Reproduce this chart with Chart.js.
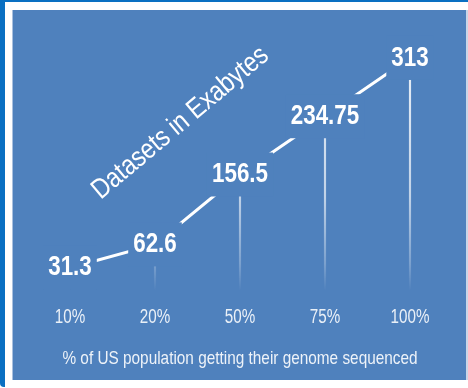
<!DOCTYPE html>
<html lang="en">
<head>
    <title>Datasets in Exabytes</title>
    <script src="https://cdn.jsdelivr.net/npm/chart.js"></script>
    <style>
        body {
            margin: 0;
            width: 468px;
            height: 388px;
            overflow: hidden;
            background: #ffffff;
            position: relative;
        }
        .edge {
            position: absolute;
            left: 0; top: 0;
            width: 468px; height: 387px;
            background: #0a70c2;
            border-bottom-left-radius: 4px;
        }
        .sheet {
            position: absolute;
            left: 5px; top: 2px;
            width: 463px; height: 386px;
            background: #ffffff;
        }
        .plot {
            position: absolute;
            left: 13px; top: 10px;
            width: 453px; height: 370px;
            background: #4f81bd;
            border-right: 2px solid #c9d6e8;
            box-shadow: -1px 0 0 #a9c0de;
        }
    </style>
</head>
<body>
    <div class="edge"></div>
    <div class="sheet"></div>
    <div class="plot"><canvas id="exabytes" width="453" height="370"></canvas></div>

    <script>
        const populationShare = ['10%', '20%', '50%', '75%', '100%'];
        const exabytes = [31.3, 62.6, 156.5, 234.75, 313];
        const valueLabels = ['31.3', '62.6', '156.5', '234.75', '313'];
        const axisTitle = '% of US population getting their genome sequenced';
        const seriesTitle = 'Datasets in Exabytes';

        const plotBlue = '#4f81bd';
        const family = "'Liberation Sans', Arial, sans-serif";

        // no condensed face is installed, so squeeze the text sideways
        function narrowText(ctx, text, x, y, squeeze) {
            ctx.save();
            ctx.translate(x, y);
            ctx.scale(squeeze, 1);
            ctx.fillText(text, 0, 0);
            ctx.restore();
        }

        const textPlugin = {
            id: 'narrowText',
            afterDatasetsDraw(chart) {
                const ctx = chart.ctx;
                const area = chart.chartArea;
                const xScale = chart.scales.x;
                const meta = chart.getDatasetMeta(1);
                ctx.save();
                ctx.textAlign = 'center';
                ctx.textBaseline = 'middle';

                // value labels sit on a box of the plot colour, which breaks the line
                ctx.font = 'bold 28px ' + family;
                meta.data.forEach((pt, i) => {
                    const w = ctx.measureText(valueLabels[i]).width * 0.8;
                    ctx.fillStyle = plotBlue;
                    ctx.fillRect(pt.x - w / 2 - 5, pt.y - 22, w + 10, 44);
                    ctx.fillStyle = '#ffffff';
                    narrowText(ctx, valueLabels[i], pt.x, pt.y, 0.8);
                });

                // category labels and axis title
                ctx.font = '19.5px ' + family;
                ctx.fillStyle = 'rgba(255,255,255,0.88)';
                xScale.ticks.forEach((tick, i) => {
                    narrowText(ctx, xScale.getLabelForValue(tick.value), xScale.getPixelForTick(i), area.bottom + 27, 0.78);
                });
                ctx.font = '18.5px ' + family;
                ctx.fillStyle = 'rgba(255,255,255,0.9)';
                narrowText(ctx, axisTitle, (area.left + area.right) / 2, area.bottom + 68, 0.83);

                // rotated series title
                ctx.fillStyle = '#ffffff';
                ctx.font = '28px ' + family;
                ctx.translate(area.left + area.width * 0.36, area.top + area.height * 0.38);
                ctx.rotate(-40 * Math.PI / 180);
                narrowText(ctx, seriesTitle, 0, 0, 0.84);
                ctx.restore();
            }
        };

        const ctx = document.getElementById('exabytes').getContext('2d');
        new Chart(ctx, {
            type: 'bar',
            data: {
                labels: populationShare,
                datasets: [{
                    // thin fading drop lines
                    type: 'bar',
                    data: exabytes,
                    barThickness: 1.5,
                    order: 2,
                    backgroundColor: function(context) {
                        const area = context.chart.chartArea;
                        if (!area) return 'rgba(255,255,255,0.6)';
                        const g = context.chart.ctx.createLinearGradient(0, area.top, 0, area.bottom);
                        g.addColorStop(0, 'rgba(255,255,255,0.95)');
                        g.addColorStop(0.65, 'rgba(255,255,255,0.65)');
                        g.addColorStop(0.9, 'rgba(255,255,255,0.25)');
                        g.addColorStop(1, 'rgba(255,255,255,0)');
                        return g;
                    }
                }, {
                    type: 'line',
                    data: exabytes,
                    order: 1,
                    borderColor: '#ffffff',
                    borderWidth: 3,
                    pointRadius: 0,
                    tension: 0
                }]
            },
            options: {
                responsive: false,
                animation: false,
                layout: {
                    padding: { left: 14.5, right: 13.5, top: 10, bottom: 89 }
                },
                plugins: {
                    legend: { display: false },
                    tooltip: { enabled: false }
                },
                scales: {
                    y: {
                        display: false,
                        min: 0,
                        max: 364
                    },
                    x: {
                        display: false
                    }
                }
            },
            plugins: [textPlugin]
        });
    </script>
</body>
</html>
